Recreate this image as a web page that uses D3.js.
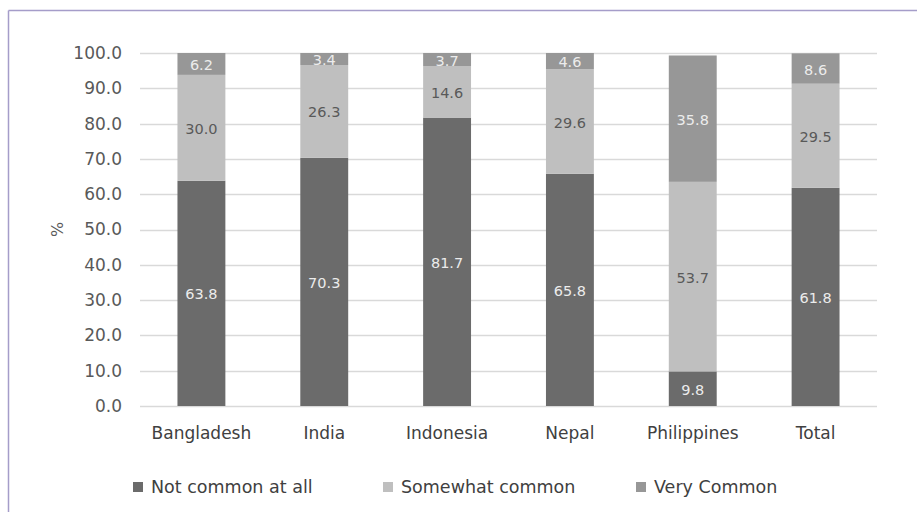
<!DOCTYPE html>
<html>
<head>
<meta charset="utf-8">
<script src="https://cdn.jsdelivr.net/npm/d3@7"></script>
<style>
  html, body { margin: 0; padding: 0; background: #fff; }
  svg { display: block; font-family: "DejaVu Sans", sans-serif; }
</style>
</head>
<body>
<svg id="chart" width="917" height="512"></svg>
<script>
// Country groups along the x axis
const countries = ["Bangladesh", "India", "Indonesia", "Nepal", "Philippines", "Total"];
// Share of respondents (%) in each response category
const notCommon = [63.8, 70.3, 81.7, 65.8, 9.8, 61.8];
const somewhatCommon = [30.0, 26.3, 14.6, 29.6, 53.7, 29.5];
const veryCommon = [6.2, 3.4, 3.7, 4.6, 35.8, 8.6];
const seriesNames = ["Not common at all", "Somewhat common", "Very Common"];
const yTicks = [0, 10, 20, 30, 40, 50, 60, 70, 80, 90, 100];

const colors = ["#6b6b6b", "#bfbfbf", "#979797"];
const labelColors = ["#ececec", "#595959", "#ececec"];

const svg = d3.select("#chart");
const W = 917, H = 512;

// Frame: top and left rules
svg.append("line").attr("x1", 8.5).attr("x2", W).attr("y1", 10.5).attr("y2", 10.5)
  .attr("stroke", "#a59dc9").attr("stroke-width", 1.5);
svg.append("line").attr("x1", 8.5).attr("x2", 8.5).attr("y1", 10.5).attr("y2", H)
  .attr("stroke", "#a59dc9").attr("stroke-width", 1.5);

const margin = { left: 140, right: 40, top: 53, bottom: 106 };
const x = d3.scaleBand().domain(countries).range([margin.left, W - margin.right])
  .paddingInner(0.61).paddingOuter(0.305);
const y = d3.scaleLinear().domain([0, 100]).range([H - margin.bottom, margin.top]);

// Gridlines
svg.append("g").selectAll("line").data(yTicks).join("line")
  .attr("x1", margin.left).attr("x2", W - margin.right)
  .attr("y1", d => Math.round(y(d)) + 0.5).attr("y2", d => Math.round(y(d)) + 0.5)
  .attr("stroke", "#d9d9d9").attr("stroke-width", 1.4);

// Y axis tick labels
const yAxis = d3.axisLeft(y).tickValues(yTicks).tickFormat(d3.format(".1f")).tickSize(0).tickPadding(0);
const gy = svg.append("g").attr("transform", `translate(${margin.left - 18},0)`).call(yAxis);
gy.select(".domain").remove();
gy.selectAll("text").attr("fill", "#595959").style("font-size", "17px")
  .style("font-family", "'DejaVu Sans', sans-serif");

// Y axis title
svg.append("text").attr("transform", `translate(57,${y(50)}) rotate(-90)`)
  .attr("text-anchor", "middle").attr("dy", "0.35em")
  .attr("fill", "#595959").style("font-size", "16px").text("%");

// Stack the three series
const rows = countries.map((c, i) => ({
  country: c,
  [seriesNames[0]]: notCommon[i],
  [seriesNames[1]]: somewhatCommon[i],
  [seriesNames[2]]: veryCommon[i]
}));
const stacked = d3.stack().keys(seriesNames)(rows);

const layers = svg.append("g").selectAll("g").data(stacked).join("g")
  .attr("fill", (d, i) => colors[i]);
layers.selectAll("rect").data(d => d).join("rect")
  .attr("x", d => x(d.data.country))
  .attr("width", x.bandwidth())
  .attr("y", d => y(d[1]))
  .attr("height", d => y(d[0]) - y(d[1]));

// Value labels centred in each segment
const labelGroups = svg.append("g").selectAll("g").data(stacked).join("g");
labelGroups.each(function (layer, i) {
  d3.select(this).selectAll("text").data(layer).join("text")
    .attr("x", d => x(d.data.country) + x.bandwidth() / 2)
    .attr("y", d => (y(d[0]) + y(d[1])) / 2 + 1)
    .attr("dy", "0.35em")
    .attr("text-anchor", "middle")
    .attr("fill", labelColors[i])
    .style("font-size", "14.5px")
    .text(d => d3.format(".1f")(d[1] - d[0]));
});

// Category axis labels
const xAxis = d3.axisBottom(x).tickSize(0).tickPadding(0);
const gx = svg.append("g").attr("transform", `translate(0,${y(0) + 27})`).call(xAxis);
gx.select(".domain").remove();
gx.selectAll("text").attr("fill", "#404040").attr("dy", "0.35em").attr("y", 0)
  .style("font-size", "17px").style("font-family", "'DejaVu Sans', sans-serif");

// Legend
const legendX = [133, 383, 636];
const legend = svg.append("g").selectAll("g").data(seriesNames).join("g")
  .attr("transform", (d, i) => `translate(${legendX[i]},487)`);
legend.append("rect").attr("x", 0).attr("y", -5).attr("width", 10).attr("height", 10)
  .attr("fill", (d, i) => colors[i]);
legend.append("text").attr("x", 18).attr("dy", "0.35em")
  .attr("fill", "#404040").style("font-size", "17.5px").text(d => d);
</script>
</body>
</html>
